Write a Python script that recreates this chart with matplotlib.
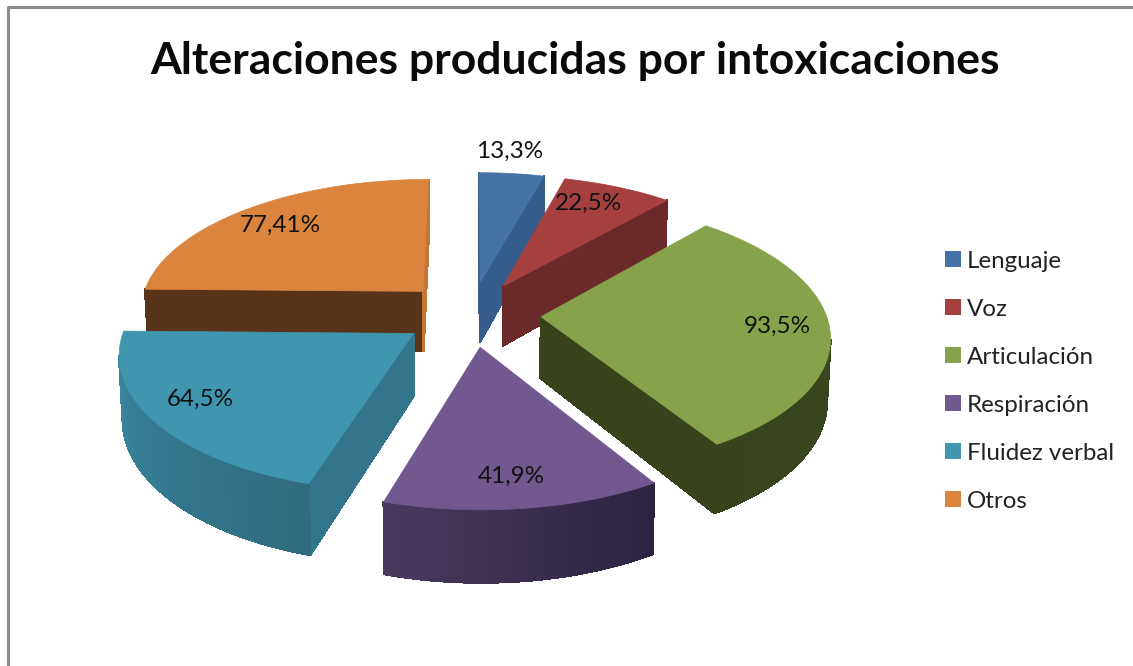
import numpy as np
import matplotlib
matplotlib.use('Agg')
from matplotlib import pyplot as plt
from matplotlib.patches import Polygon, Rectangle

labels = ['Lenguaje', 'Voz', 'Articulación', 'Respiración', 'Fluidez verbal', 'Otros']
values = [13.3, 22.5, 93.5, 41.9, 64.5, 77.41]
value_text = ['13,3%', '22,5%', '93,5%', '41,9%', '64,5%', '77,41%']
top_colors = ['#4572A7', '#A6403F', '#86A34B', '#71588F', '#4196AF', '#DB843D']
side_colors = ['#355D8C', '#6B2A29', '#38431C', '#46345A', '#33758A', '#573419']
close_colors = ['#355D8C', '#6B2A29', '#38431C', '#46345A', '#33758A', '#C47632']
wall_start = ['#355D8C', '#6B2A29', '#3A4A1C', '#2B2240', '#2F6B7E', '#573419']
wall_end = ['#355D8C', '#6B2A29', '#38431C', '#4A3A60', '#3A8AA3', '#573419']
label_pos = [(510, 151), (589, 203), (777, 326), (511, 476), (200, 399), (280, 225)]

# projection of the pie, pixels
CX, CY = 471, 314
R = 285.0
EXPLODE = 70.0
SQUASH = 132.0 / 285.0
PERSP = 0.13
DEPTH = 61.0


def project(x, y):
    ''' plane point -> screen point, y is positive towards the viewer '''
    s = 1.0 / (1.0 - PERSP * y / R)
    return CX + x * s, CY + SQUASH * y * s, s


def lower(p):
    ''' same point on the bottom of the slab '''
    sx, sy, s = p
    return CX + (sx - CX) * 0.99, sy + DEPTH * s


def slice_outline(start, end, n=60):
    mid = (start + end) / 2
    ox, oy = EXPLODE * np.sin(mid), -EXPLODE * np.cos(mid)
    pts = [project(ox, oy)]
    for t in np.linspace(start, end, n):
        pts.append(project(ox + R * np.sin(t), oy - R * np.cos(t)))
    return pts


def mix(c1, c2, f):
    a = np.array(matplotlib.colors.to_rgb(c1))
    b = np.array(matplotlib.colors.to_rgb(c2))
    return tuple(a + (b - a) * f)


fig = plt.figure(figsize=(11.33, 6.66), dpi=100)
ax = fig.add_axes([0, 0, 1, 1])
ax.set_xlim(0, 1133)
ax.set_ylim(666, 0)
ax.axis('off')

# chart frame
ax.plot([8, 8, 1133], [666, 7, 7], color='#8c8c8c', lw=2.2, solid_capstyle='butt')

ax.text(575, 61, 'Alteraciones producidas por intoxicaciones', ha='center', va='center',
        fontsize=32, fontweight='bold', family='Lato', color='#0a0a0a')

angles = np.cumsum([0] + values) / sum(values) * 2 * np.pi
slices = []
for i in range(len(values)):
    mid = (angles[i] + angles[i + 1]) / 2
    slices.append((-np.cos(mid), i))

# back to front
for _, i in sorted(slices):
    pts = slice_outline(angles[i], angles[i + 1])
    n = len(pts)
    for j in range(n):
        p, q = pts[j], pts[(j + 1) % n]
        if q[0] >= p[0]:
            continue  # faces away
        quad = [p[:2], q[:2], lower(q), lower(p)]
        if j == n - 1:
            col = close_colors[i]
        elif j > 0:
            col = mix(wall_start[i], wall_end[i], j / (n - 1))
        else:
            col = side_colors[i]
        ax.add_patch(Polygon(quad, closed=True, fc=col, ec=col, lw=1.0, antialiased=False))
    ax.add_patch(Polygon([p[:2] for p in pts], closed=True, fc=top_colors[i],
                         ec=top_colors[i], lw=0.5))
    ax.text(label_pos[i][0], label_pos[i][1], value_text[i], ha='center', va='center',
            fontsize=17.5, family='Lato', color='#111111', zorder=10)

# legend
legend_y = [259, 307, 355, 403, 451, 499]
for name, col, y in zip(labels, top_colors, legend_y):
    ax.add_patch(Rectangle((945, y - 8), 16, 16, fc=col, ec='none'))
    ax.text(967, y + 2, name, ha='left', va='center', fontsize=17.4, family='Lato', color='#222222')

fig.savefig('out.png', dpi=100)
